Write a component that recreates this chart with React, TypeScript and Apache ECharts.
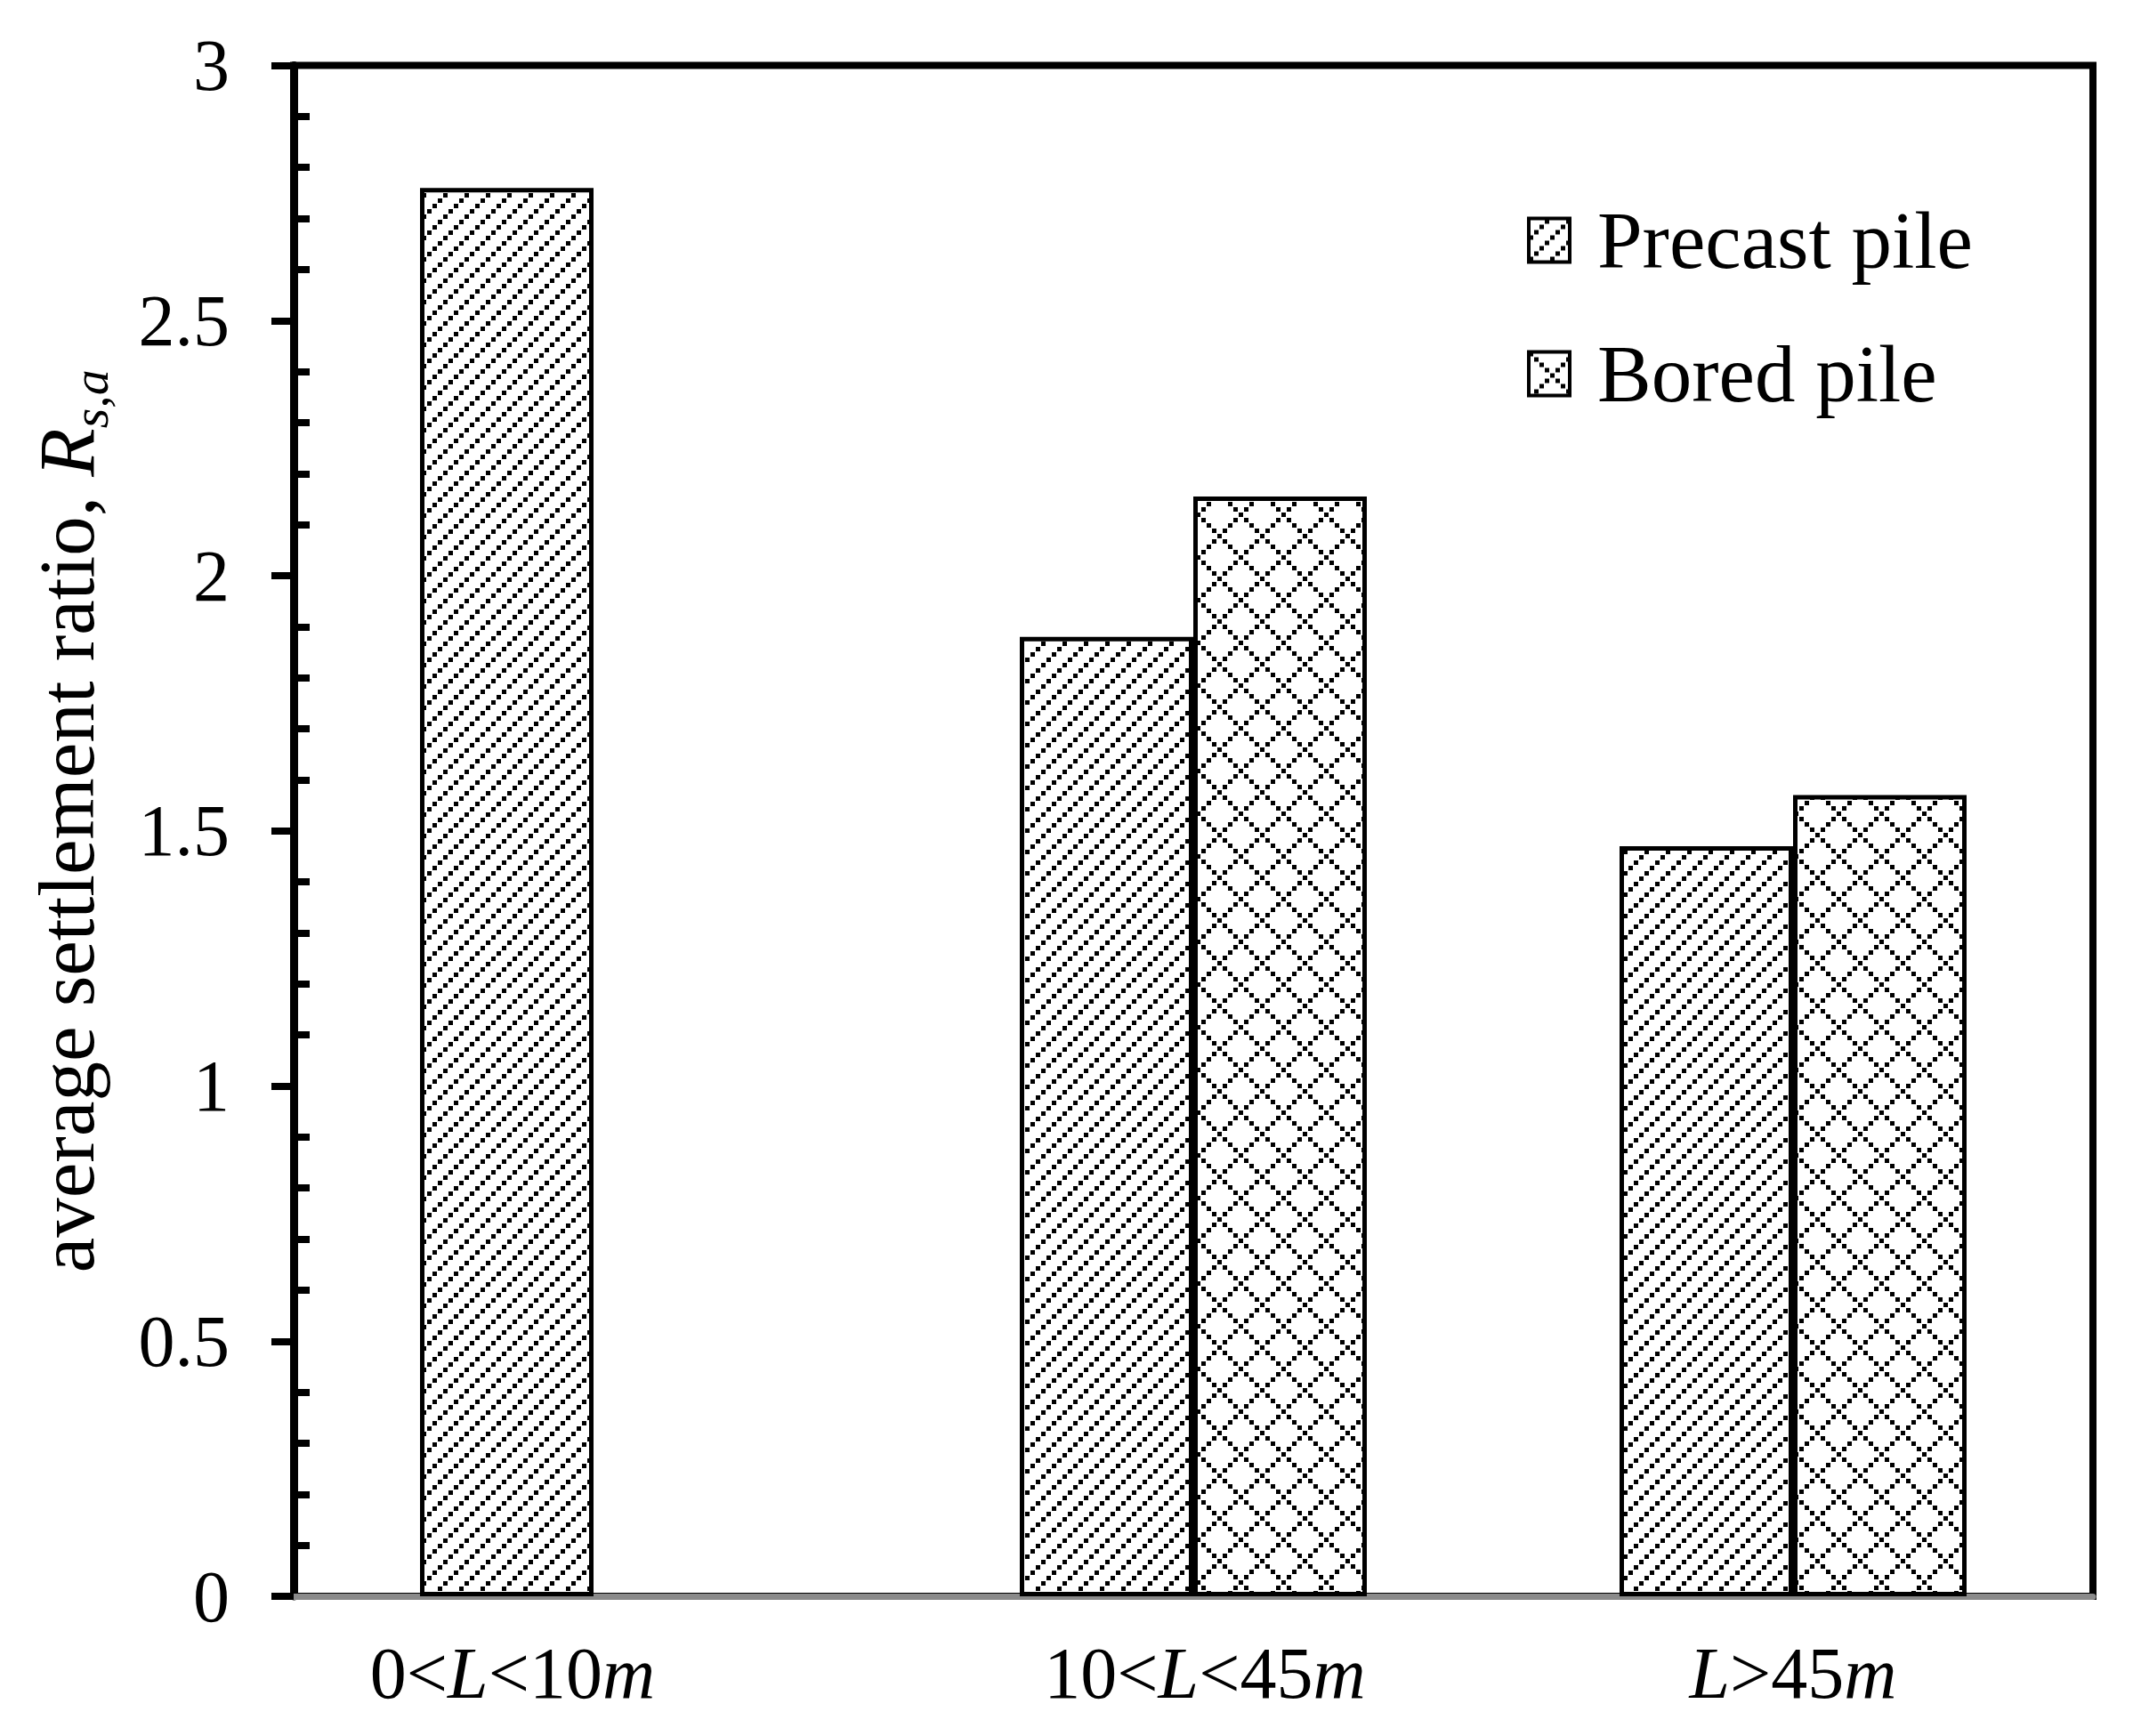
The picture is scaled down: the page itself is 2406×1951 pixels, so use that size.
import React, { useEffect, useRef } from 'react';
import * as echarts from 'echarts';

const categories = ['0<L<10m', '10<L<45m', 'L>45m'];
const seriesNames = ['Precast pile', 'Bored pile'];
const precastValues = [2.76, 1.88, 1.47];
const boredValues = [null, 2.155, 1.57];
const yMin = 0;
const yMax = 3;
const yInterval = 0.5;

const FONT = '"Liberation Serif", "Times New Roman", serif';

function makePattern(kind: 'diag' | 'diamond') {
  const size = kind === 'diag' ? 24 : 48;
  const d = 5;
  const c = document.createElement('canvas');
  c.width = size;
  c.height = size;
  const ctx = c.getContext('2d')!;
  ctx.fillStyle = '#ffffff';
  ctx.fillRect(0, 0, size, size);
  ctx.fillStyle = '#000000';
  const n = size / 6;
  for (let i = 0; i < n; i++) {
    const x = i * 6;
    if (kind === 'diag') {
      ctx.fillRect(x, size - d - i * 6, d, d);
    } else {
      ctx.fillRect(x, x, d, d);
      ctx.fillRect(x, (size - x) % size, d, d);
    }
  }
  return { image: c.toDataURL(), repeat: 'repeat', imageWidth: size, imageHeight: size };
}

function catLabel(value: string, idx: number) {
  const parts = value.split(/([Lm])/).filter((p) => p !== '');
  const s = parts.map((p) => (p === 'L' || p === 'm' ? `{i|${p}}` : `{n|${p}}`)).join('');
  if (idx === 0) return s + '{sp|}';
  if (idx === 1) return '{sp2|}' + s;
  return s;
}

export default function App() {
  const ref = useRef<HTMLDivElement>(null);
  useEffect(() => {
    document.body.style.margin = '0';
    const chart = echarts.init(ref.current!, null, { renderer: 'svg' });
    const diag = makePattern('diag');
    const diamond = makePattern('diamond');
    const option: any = {
      animation: false,
      backgroundColor: '#ffffff',
      textStyle: { fontFamily: FONT, color: '#000' },
      grid: {
        left: 330,
        right: 54,
        top: 73.5,
        bottom: 157,
        show: true,
        borderColor: '#000',
        borderWidth: 8,
        backgroundColor: 'transparent',
      },
      legend: {
        orient: 'vertical',
        left: 1716,
        top: 222,
        padding: 0,
        itemWidth: 46,
        itemHeight: 49,
        itemGap: 54,
        icon: 'rect',
        selectedMode: false,
        itemStyle: { borderColor: '#000', borderWidth: 4 },
        textStyle: { fontFamily: FONT, fontSize: 91, lineHeight: 96, color: '#000', padding: [0, 0, 0, 26] },
        data: seriesNames,
      },
      xAxis: {
        type: 'category',
        data: categories,
        axisLine: { show: true, lineStyle: { color: '#8a8a8a', width: 7 } },
        axisTick: { show: false },
        axisLabel: {
          margin: 45,
          formatter: catLabel,
          rich: {
            n: { fontFamily: FONT, fontSize: 82, color: '#000' },
            i: { fontFamily: FONT, fontSize: 82, fontStyle: 'italic', color: '#000' },
            sp: { width: 182 },
            sp2: { width: 26 },
          },
        },
        splitLine: { show: false },
      },
      yAxis: {
        type: 'value',
        min: yMin,
        max: yMax,
        interval: yInterval,
        name: '{sp|}{n|average settlement ratio, }{i|R}{s|s,a}',
        nameLocation: 'middle',
        nameRotate: 90,
        nameGap: 200,
        nameTextStyle: {
          rich: {
            sp: { width: 22 },
            n: { fontFamily: FONT, fontSize: 89, lineHeight: 110, verticalAlign: 'middle', color: '#000' },
            i: { fontFamily: FONT, fontSize: 89, lineHeight: 110, verticalAlign: 'middle', fontStyle: 'italic', color: '#000' },
            s: { fontFamily: FONT, fontSize: 58, lineHeight: 58, verticalAlign: 'bottom', fontStyle: 'italic', color: '#000' },
          },
        },
        axisLine: { show: true, lineStyle: { color: '#000', width: 9 } },
        axisTick: { show: true, length: 25, lineStyle: { color: '#000', width: 8 } },
        minorTick: { show: true, splitNumber: 5, length: -18, lineStyle: { color: '#000', width: 8 } },
        axisLabel: { fontFamily: FONT, fontSize: 82, color: '#000', margin: 72 },
        splitLine: { show: false },
      },
      series: [
        {
          name: seriesNames[0],
          type: 'bar',
          data: precastValues,
          barWidth: 195,
          barGap: '0%',
          itemStyle: { color: diag, borderColor: '#000', borderWidth: 5 },
        },
        {
          name: seriesNames[1],
          type: 'bar',
          data: boredValues,
          barWidth: 195,
          barGap: '0%',
          itemStyle: { color: diamond, borderColor: '#000', borderWidth: 5 },
        },
      ],
    };
    chart.setOption(option);
    return () => chart.dispose();
  }, []);
  return (
    <div
      ref={ref}
      style={{ position: 'absolute', left: 0, top: 0, width: 2406, height: 1951, background: '#fff' }}
    />
  );
}
